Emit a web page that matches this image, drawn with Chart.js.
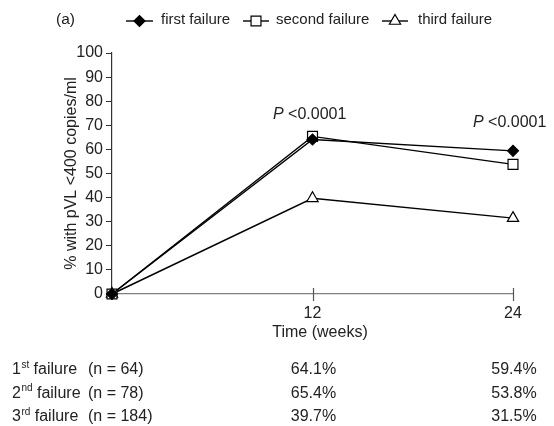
<!DOCTYPE html>
<html><head><meta charset="utf-8">
<script src="https://cdn.jsdelivr.net/npm/chart.js@4"></script>
<style>html,body{margin:0;padding:0;background:#fff}#wrap{width:554px;height:426px;position:relative}</style>
</head><body><div id="wrap"><canvas id="c" width="554" height="426"></canvas></div>
<script>
const weeks = [0, 12, 24];
const firstFailure = [0, 64.1, 59.4];
const secondFailure = [0, 65.4, 53.8];
const thirdFailure = [0, 39.7, 31.5];
const seriesNames = ['first failure', 'second failure', 'third failure'];
const rowOrdinals = ['1', '2', '3'];
const rowSuffixes = ['st', 'nd', 'rd'];
const rowNs = [64, 78, 184];
const tableWeeks = [12, 24];
const tableValues = [['64.1%', '59.4%'], ['65.4%', '53.8%'], ['39.7%', '31.5%']];
const pValueText = '<0.0001';
const panelLabel = '(a)';
const xTitle = 'Time (weeks)';
const yTitle = '% with pVL <400 copies/ml';

const FONT = '"Liberation Sans", Arial, sans-serif';
const TXT = '#222';

function pts(vals) { return weeks.map((w, i) => ({x: w, y: vals[i]})); }

function drawMarker(ctx, style, x, y, r) {
  ctx.save();
  ctx.beginPath();
  ctx.lineWidth = 1.2;
  ctx.strokeStyle = '#000';
  if (style === 'rectRot') {
    ctx.moveTo(x - r, y); ctx.lineTo(x, y - r); ctx.lineTo(x + r, y); ctx.lineTo(x, y + r); ctx.closePath();
    ctx.fillStyle = '#000';
  } else if (style === 'rect') {
    const s = Math.SQRT1_2 * r;
    ctx.rect(x - s, y - s, 2 * s, 2 * s);
    ctx.fillStyle = '#fff';
  } else {
    let rad = 0;
    ctx.moveTo(x + Math.sin(rad) * r, y - Math.cos(rad) * r);
    rad += 2 * Math.PI / 3;
    ctx.lineTo(x + Math.sin(rad) * r, y - Math.cos(rad) * r);
    rad += 2 * Math.PI / 3;
    ctx.lineTo(x + Math.sin(rad) * r, y - Math.cos(rad) * r);
    ctx.closePath();
    ctx.fillStyle = '#fff';
  }
  ctx.fill(); ctx.stroke();
  ctx.restore();
}

const extras = {
  id: 'extras',
  afterDraw(chart) {
    const ctx = chart.ctx;
    const xs = chart.scales.x;
    const area = chart.chartArea;
    ctx.save();
    // crossing ticks on x axis
    ctx.strokeStyle = '#555';
    ctx.lineWidth = 1.2;
    weeks.forEach(w => {
      if (w === 0) return;
      const px = Math.round(xs.getPixelForValue(w)) + 0.5;
      ctx.beginPath(); ctx.moveTo(px, area.bottom - 6); ctx.lineTo(px, area.bottom + 7); ctx.stroke();
    });
    ctx.fillStyle = TXT;
    ctx.textBaseline = 'middle';
    // panel label
    ctx.font = '15.5px ' + FONT;
    ctx.textAlign = 'left';
    ctx.fillText(panelLabel, 56, 20);
    // legend
    const legend = [
      {style: 'rectRot', r: 5.5, x0: 126, x1: 153, tx: 161},
      {style: 'rect', r: 7, x0: 243, x1: 269, tx: 276},
      {style: 'triangle', r: 6.5, x0: 382, x1: 408, tx: 418}
    ];
    ctx.font = '15px ' + FONT;
    legend.forEach((l, i) => {
      ctx.strokeStyle = '#000'; ctx.lineWidth = 1.4;
      ctx.beginPath(); ctx.moveTo(l.x0, 21); ctx.lineTo(l.x1, 21); ctx.stroke();
      drawMarker(ctx, l.style, (l.x0 + l.x1) / 2, 21, l.r);
      ctx.fillStyle = TXT;
      ctx.fillText(seriesNames[i], l.tx, 20);
    });
    // P annotations
    const pPos = [{x: 273, y: 115}, {x: 473, y: 123}];
    pPos.forEach(p => {
      ctx.font = 'italic 16px ' + FONT;
      ctx.fillText('P', p.x, p.y);
      const w = ctx.measureText('P ').width;
      ctx.font = '16px ' + FONT;
      ctx.fillText(pValueText, p.x + w, p.y);
    });
    // x title
    ctx.font = '16px ' + FONT;
    ctx.textAlign = 'center';
    ctx.fillText(xTitle, 320, 333);
    // table
    rowNs.forEach((n, i) => {
      const y = 370 + i * 23.5;
      ctx.textAlign = 'left';
      ctx.font = '16px ' + FONT;
      ctx.fillText(rowOrdinals[i], 12, y);
      let x = 12 + ctx.measureText(rowOrdinals[i]).width;
      ctx.font = '10px ' + FONT;
      ctx.fillText(rowSuffixes[i], x + 0.5, y - 5);
      x += ctx.measureText(rowSuffixes[i]).width + 0.5;
      ctx.font = '16px ' + FONT;
      ctx.fillText(' failure', x, y);
      ctx.fillText('(n = ' + n + ')', 88, y);
      ctx.textAlign = 'center';
      tableWeeks.forEach((w, j) => {
        ctx.fillText(tableValues[i][j], xs.getPixelForValue(w) + 1, y);
      });
    });
    ctx.restore();
  }
};

new Chart(document.getElementById('c'), {
  type: 'line',
  data: {
    datasets: [
      {label: seriesNames[0], data: pts(firstFailure), pointStyle: 'rectRot', pointRadius: 5.5, backgroundColor: '#000', pointBackgroundColor: '#000'},
      {label: seriesNames[1], data: pts(secondFailure), pointStyle: 'rect', pointRadius: 7, pointBackgroundColor: '#fff'},
      {label: seriesNames[2], data: pts(thirdFailure), pointStyle: 'triangle', pointRadius: 6.5, pointBackgroundColor: '#fff'}
    ].map(d => Object.assign({borderColor: '#000', borderWidth: 1.4, pointBorderColor: '#000', pointBorderWidth: 1.2, tension: 0, clip: false, fill: false}, d))
  },
  options: {
    responsive: false,
    animation: false,
    layout: {padding: {top: 53, right: 41, left: 0, bottom: 0}},
    plugins: {legend: {display: false}, tooltip: {enabled: false}},
    scales: {
      x: {
        type: 'linear', min: 0, max: 24,
        afterBuildTicks: s => { s.ticks = weeks.map(v => ({value: v})); },
        ticks: {callback: v => v === 0 ? '' : String(v), font: {size: 16, family: FONT}, color: TXT, padding: 10, maxRotation: 0, autoSkip: false},
        grid: {drawOnChartArea: false, drawTicks: false},
        border: {color: '#808080', width: 1.2},
        afterFit: s => { s.height = 132; }
      },
      y: {
        min: 0, max: 100,
        ticks: {stepSize: 10, font: {size: 16, family: FONT}, color: TXT, padding: 3},
        grid: {drawOnChartArea: false, drawTicks: true, tickLength: 6, color: '#333'},
        border: {color: '#333', width: 1.2},
        title: {display: true, text: yTitle, font: {size: 16, family: FONT}, color: TXT, padding: {top: 62, bottom: 0}},
        afterFit: s => { s.width = 112; }
      }
    }
  },
  plugins: [extras]
});
</script>
</body></html>
